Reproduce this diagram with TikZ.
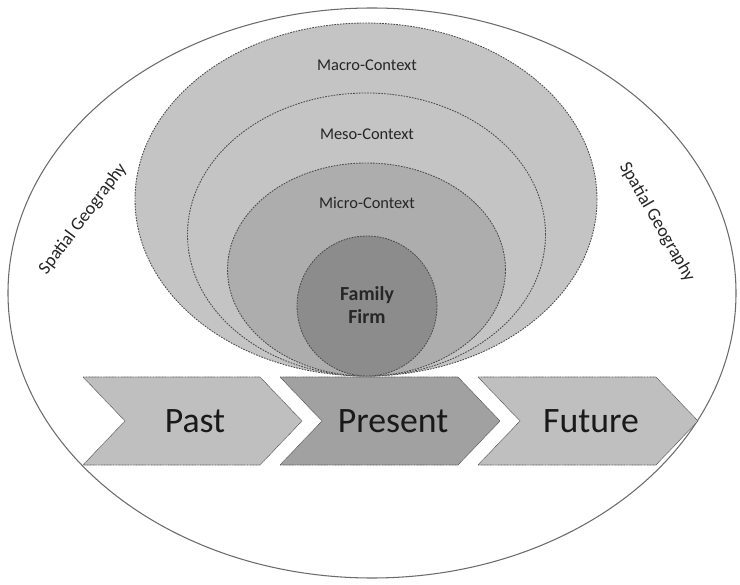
\documentclass[tikz,border=0pt]{standalone}
\usepackage{fontspec}
\setmainfont{Carlito}

\tikzset{
  ctx/.style={draw=black!70,line width=0.75pt,dash pattern=on 1.4pt off 1pt},
  chevron/.style={draw=black!65,line width=0.55pt,dash pattern=on 0.8pt off 0.5pt},
  ctxlabel/.style={font=\fontsize{14}{16}\selectfont,text=black!85},
  timelabel/.style={font=\fontsize{30.5}{34}\selectfont,text=black!90},
  geolabel/.style={font=\fontsize{15.5}{17}\selectfont,text=black!85},
}

\begin{document}
\begin{tikzpicture}[x=0.3mm,y=0.3mm]
\useasboundingbox (0,0) rectangle (740,584);

% outer region
\draw[draw=black!58,line width=0.9pt,fill=white] (372,291) ellipse [x radius=364,y radius=285];

% nested contexts, all touching at the bottom
\draw[ctx,fill=black!23] (366,384.5) ellipse [x radius=231,y radius=176.5];
\draw[ctx,fill=black!23] (366.5,349.5) ellipse [x radius=179,y radius=141.5];
\draw[ctx,fill=black!32] (366.5,314.5) ellipse [x radius=139,y radius=106.5];
\draw[ctx,fill=black!45] (367,278) circle [radius=70];

\node[ctxlabel] (macro) at (367,519) {Macro-Context};
\node[ctxlabel] (meso) at (367,450) {Meso-Context};
\node[ctxlabel] (micro) at (367,381) {Micro-Context};
\node[font=\bfseries\fontsize{17}{19}\selectfont,text=black!85,align=center] (firm) at (367,279) {Family\\Firm};

% time line
\draw[chevron,fill=black!25] (83,207) -- (260,207) -- (302,163) -- (260,119) -- (83,119) -- (125,163) -- cycle;
\draw[chevron,fill=black!37] (280,207) -- (458,207) -- (500,163) -- (458,119) -- (280,119) -- (322,163) -- cycle;
\draw[chevron,fill=black!25] (478,207) -- (656,207) -- (698,163) -- (656,119) -- (478,119) -- (520,163) -- cycle;

\node[timelabel] (past) at (195,163) {Past};
\node[timelabel] (present) at (393,163) {Present};
\node[timelabel] (future) at (591,163) {Future};

% geography labels
\node[geolabel,rotate=53] (geoL) at (83,365) {Spatial Geography};
\node[geolabel,rotate=-60] (geoR) at (657,362) {Spatial Geography};

\end{tikzpicture}
\end{document}
